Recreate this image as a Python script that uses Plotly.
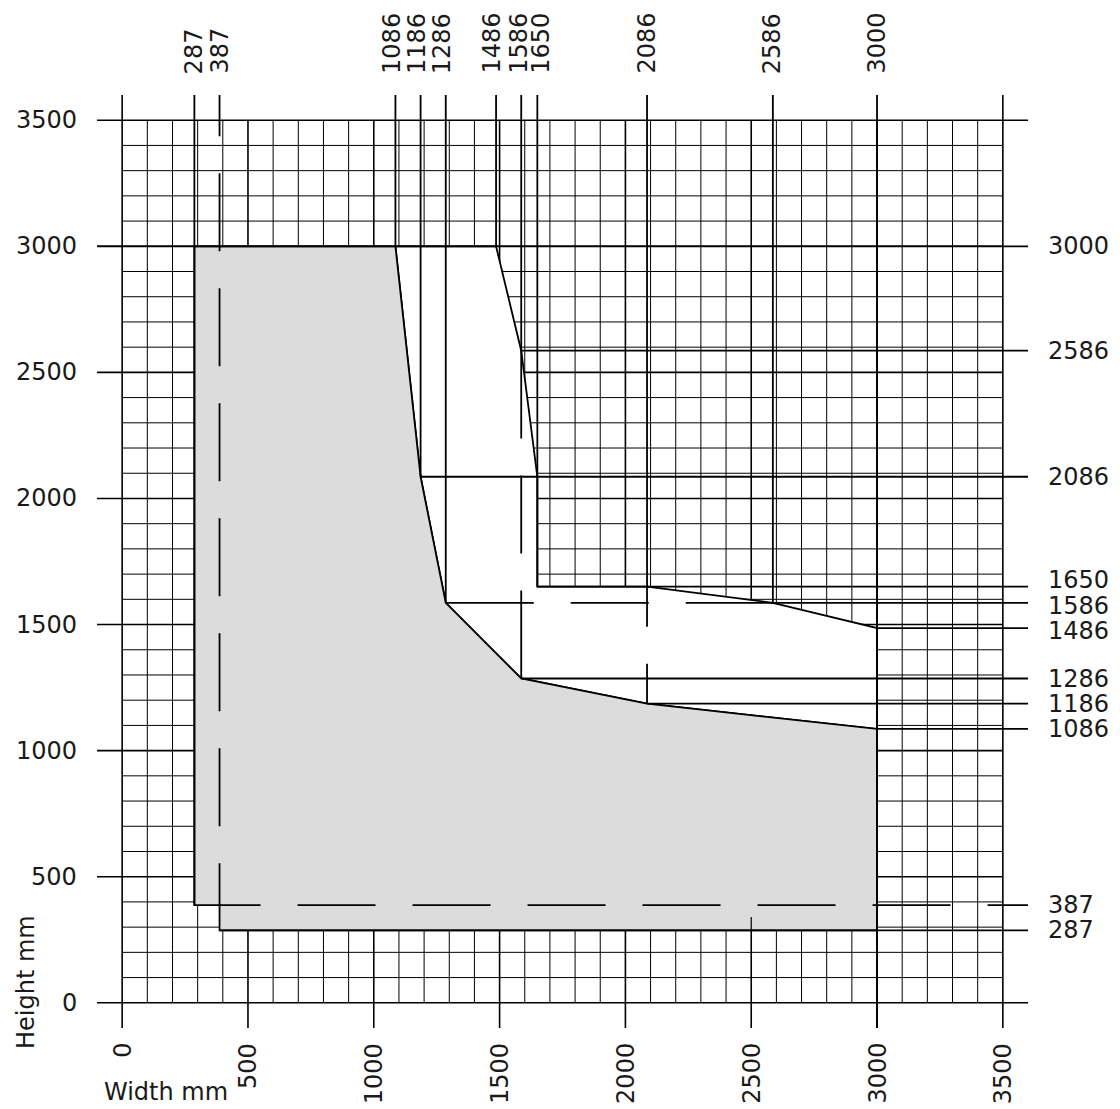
import plotly.graph_objects as go

# ---------------- data (mm) ----------------
tick_vals = [0, 500, 1000, 1500, 2000, 2500, 3000, 3500]
tick_text = ["0", "500", "1000", "1500", "2000", "2500", "3000", "3500"]

top_labels = [287, 387, 1086, 1186, 1286, 1486, 1586, 1650, 2086, 2586, 3000]
right_labels = [3000, 2586, 2086, 1650, 1586, 1486, 1286, 1186, 1086, 387, 287]

# minimum size area (grey)
min_w = [287, 1086, 1186, 1286, 1586, 2086, 3000, 3000, 387, 387, 287, 287]
min_h = [3000, 3000, 2086, 1586, 1286, 1186, 1086, 287, 287, 387, 387, 3000]

# maximum envelope (outer boundary of the white area)
max_w = [1086, 1486, 1586, 1650, 1650, 2086, 2586, 3000, 3000]
max_h = [3000, 3000, 2586, 2086, 1650, 1650, 1586, 1486, 1086]

# ---------------- drawing constants ----------------
W, H = 1120, 1109
ML, MT, PW, PH = 97, 95, 931, 933
LO, HI = -100, 3600          # extent of tick / extension lines
GRID_MAX, GRID_STEP = 3500, 100
sx = PW / (HI - LO)
sy = PH / (HI - LO)

# solid extension lines
vext_x = [287, 1086, 1186, 1286, 1486, 1586, 1650, 2086, 2586, 3000]
vext_from = [387, 3000, 2086, 1586, 3000, 2586, 1650, 1650, 1586, LO]
hext_y = [3000, 2586, 2086, 1650, 1586, 1486, 1286, 1186, 1086, 287]
hext_from = [LO, 1586, 1186, 1650, 2586, 3000, 1586, 2086, 3000, 387]
# dashed centre lines
vdash_x, vdash_from, vdash_to = [387, 1586, 2086], [387, 1286, 1186], [HI, 2586, 1650]
hdash_y, hdash_from, hdash_to = [387, 1586], [387, 1286], [HI, 2586]

# label nudges (px) to keep crowded labels apart
top_shift = {1086: -3, 1186: -3, 1286: -3, 1486: -4, 1586: -2, 1650: 4}
right_shift = {1650: 7, 1586: -3, 1486: -3}

FONT = dict(family="DejaVu Sans, sans-serif", size=24, color="#1a1a1a")
LW = 1.8

fig = go.Figure()


def seg_trace(xs, ys, width, color="black", dash="solid"):
    fig.add_trace(go.Scatter(x=xs, y=ys, mode="lines", hoverinfo="skip",
                             line=dict(color=color, width=width, dash=dash)))


# minor grid
gx, gy = [], []
for v in range(0, GRID_MAX + 1, GRID_STEP):
    if v % 500:
        gx += [v, v, None, 0, GRID_MAX, None]
        gy += [0, GRID_MAX, None, v, v, None]
seg_trace(gx, gy, 1, "#000000")

# major grid + ticks
mx, my = [], []
for v in tick_vals:
    y1 = HI if v in (0, GRID_MAX) else GRID_MAX
    mx += [v, v, None]
    my += [LO, y1, None]
    x1 = HI if v in (0, GRID_MAX) else GRID_MAX
    mx += [LO, x1, None]
    my += [v, v, None]
seg_trace(mx, my, 1.6)

# white (free) area
white_w = max_w + min_w[5:1:-1] + [max_w[0]]
white_h = max_h + min_h[5:1:-1] + [max_h[0]]
fig.add_trace(go.Scatter(x=white_w, y=white_h, mode="lines", fill="toself",
                         fillcolor="white", hoverinfo="skip",
                         line=dict(color="black", width=LW)))
# grey area
fig.add_trace(go.Scatter(x=min_w, y=min_h, mode="lines", fill="toself",
                         fillcolor="#dcdcdc", hoverinfo="skip",
                         line=dict(color="black", width=LW)))

# small grid tick visible in grey area
seg_trace([2500, 2500], [287, 340], 1.2)

# extension lines
ex, ey = [], []
for x, f in zip(vext_x, vext_from):
    ex += [x, x, None]
    ey += [f, HI, None]
for y, f in zip(hext_y, hext_from):
    ex += [f, HI, None]
    ey += [y, y, None]
seg_trace(ex, ey, LW)


def dash_for(length_px, d=78, g=37, emin=35):
    n = 0
    while (length_px - (n + 1) * d - (n + 2) * g) / 2 >= emin:
        n += 1
    e = (length_px - n * d - (n + 1) * g) / 2
    parts = [e, g] + [d, g] * n + [e, 3000]
    return ",".join(f"{max(1, round(p))}px" for p in parts)


for x, f, t in zip(vdash_x, vdash_from, vdash_to):
    seg_trace([x, x], [f, t], LW, dash=dash_for((t - f) * sy))
for y, f, t in zip(hdash_y, hdash_from, hdash_to):
    seg_trace([f, t], [y, y], LW, dash=dash_for((t - f) * sx))


def px_x(p):
    return (p - ML) / PW


def px_y(p):
    return 1 - (p - MT) / PH


ann = []
for v in top_labels:
    ann.append(dict(x=v, xref="x", y=px_y(76), yref="paper", text=str(v),
                    textangle=-90, xanchor="center", yanchor="bottom",
                    xshift=top_shift.get(v, 0),
                    showarrow=False, font=FONT))
for v in right_labels:
    ann.append(dict(x=px_x(1046), xref="paper", y=v, yref="y", text=str(v),
                    xanchor="left", yanchor="middle", showarrow=False, font=FONT,
                    yshift=right_shift.get(v, 0)))
for v, t in zip(tick_vals, tick_text):
    ann.append(dict(x=px_x(79), xref="paper", y=v, yref="y", text=t,
                    xanchor="right", yanchor="middle", showarrow=False, font=FONT))
    ann.append(dict(x=v, xref="x", y=px_y(1041), yref="paper", text=t,
                    textangle=-90, xanchor="center", yanchor="top",
                    showarrow=False, font=FONT))
ann.append(dict(x=px_x(26), xref="paper", y=px_y(982), yref="paper", text="Height mm",
                textangle=-90, xanchor="center", yanchor="middle",
                showarrow=False, font=FONT))
ann.append(dict(x=px_x(166), xref="paper", y=px_y(1092), yref="paper", text="Width mm",
                xanchor="center", yanchor="middle", showarrow=False, font=FONT))

fig.update_layout(
    width=W, height=H, autosize=False,
    margin=dict(l=ML, t=MT, r=W - ML - PW, b=H - MT - PH, pad=0),
    paper_bgcolor="white", plot_bgcolor="white", showlegend=False,
    xaxis=dict(range=[LO, HI], visible=False, fixedrange=True),
    yaxis=dict(range=[LO, HI], visible=False, fixedrange=True),
    annotations=ann,
)

fig.write_html("out.html", config={"displayModeBar": False, "staticPlot": True},
               post_script="document.body.style.margin='0';")
